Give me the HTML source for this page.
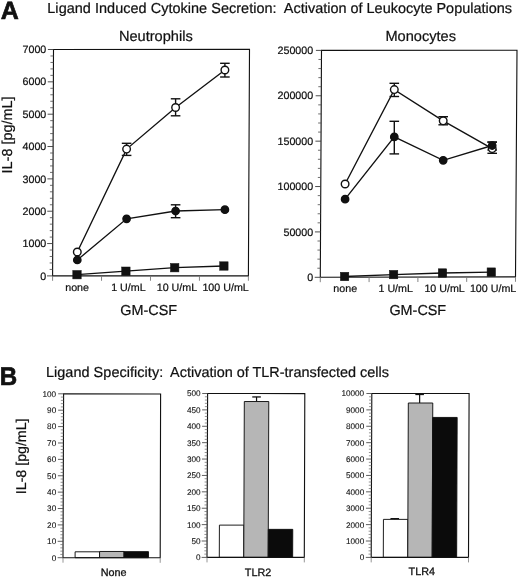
<!DOCTYPE html>
<html lang="en"><head><meta charset="utf-8"><title>Figure</title>
<style>
html,body{margin:0;padding:0;background:#fff;}
body{width:520px;height:577px;overflow:hidden;}
svg text{stroke:#111;stroke-width:0.22px;stroke-linejoin:round;}
svg{display:block;font-family:"Liberation Sans", Arial, Helvetica, sans-serif;fill:#111;will-change:transform;-webkit-font-smoothing:antialiased;text-rendering:geometricPrecision;}
</style></head><body>
<svg width="520" height="577" viewBox="0 0 520 577">
<rect x="0" y="0" width="520" height="577" fill="#fff" stroke="none"/>
<text x="0.65" y="18.60" font-size="25.0" text-anchor="start" font-weight="bold" style="stroke-width:0.7px">A</text>
<text x="47.30" y="12.60" font-size="14.45" text-anchor="start" font-weight="normal" textLength="229.3">Ligand Induced Cytokine Secretion:</text>
<text x="283.80" y="12.60" font-size="14.45" text-anchor="start" font-weight="normal" textLength="228.2">Activation of Leukocyte Populations</text>
<text x="0.00" y="0.00" font-size="25.5" text-anchor="start" font-weight="bold" style="stroke-width:0.7px" transform="translate(-0.35,384.85) scale(0.945,1)">B</text>
<text x="45.90" y="376.80" font-size="14.45" text-anchor="start" font-weight="normal" textLength="117.3">Ligand Specificity:</text>
<text x="170.10" y="376.80" font-size="14.45" text-anchor="start" font-weight="normal" textLength="218.8">Activation of TLR-transfected cells</text>
<polygon points="53.50,49.50 249.50,49.30 248.40,275.85 52.60,275.90" fill="none" stroke="#111" stroke-width="1.12" stroke-linejoin="miter"/>
<line x1="47.00" y1="275.90" x2="52.60" y2="275.90" stroke="#3a3a3a" stroke-width="0.9"/>
<text x="46.30" y="279.55" font-size="10.7" text-anchor="end" font-weight="normal" >0</text>
<line x1="49.63" y1="269.43" x2="52.63" y2="269.43" stroke="#4a4a4a" stroke-width="0.8"/>
<line x1="49.65" y1="262.96" x2="52.65" y2="262.96" stroke="#4a4a4a" stroke-width="0.8"/>
<line x1="49.68" y1="256.49" x2="52.68" y2="256.49" stroke="#4a4a4a" stroke-width="0.8"/>
<line x1="49.70" y1="250.03" x2="52.70" y2="250.03" stroke="#4a4a4a" stroke-width="0.8"/>
<line x1="47.13" y1="243.56" x2="52.73" y2="243.56" stroke="#3a3a3a" stroke-width="0.9"/>
<text x="46.30" y="247.21" font-size="10.7" text-anchor="end" font-weight="normal" >1000</text>
<line x1="49.75" y1="237.09" x2="52.75" y2="237.09" stroke="#4a4a4a" stroke-width="0.8"/>
<line x1="49.78" y1="230.62" x2="52.78" y2="230.62" stroke="#4a4a4a" stroke-width="0.8"/>
<line x1="49.81" y1="224.15" x2="52.81" y2="224.15" stroke="#4a4a4a" stroke-width="0.8"/>
<line x1="49.83" y1="217.68" x2="52.83" y2="217.68" stroke="#4a4a4a" stroke-width="0.8"/>
<line x1="47.26" y1="211.21" x2="52.86" y2="211.21" stroke="#3a3a3a" stroke-width="0.9"/>
<text x="46.30" y="214.86" font-size="10.7" text-anchor="end" font-weight="normal" >2000</text>
<line x1="49.88" y1="204.75" x2="52.88" y2="204.75" stroke="#4a4a4a" stroke-width="0.8"/>
<line x1="49.91" y1="198.28" x2="52.91" y2="198.28" stroke="#4a4a4a" stroke-width="0.8"/>
<line x1="49.93" y1="191.81" x2="52.93" y2="191.81" stroke="#4a4a4a" stroke-width="0.8"/>
<line x1="49.96" y1="185.34" x2="52.96" y2="185.34" stroke="#4a4a4a" stroke-width="0.8"/>
<line x1="47.39" y1="178.87" x2="52.99" y2="178.87" stroke="#3a3a3a" stroke-width="0.9"/>
<text x="46.30" y="182.52" font-size="10.7" text-anchor="end" font-weight="normal" >3000</text>
<line x1="50.01" y1="172.40" x2="53.01" y2="172.40" stroke="#4a4a4a" stroke-width="0.8"/>
<line x1="50.04" y1="165.93" x2="53.04" y2="165.93" stroke="#4a4a4a" stroke-width="0.8"/>
<line x1="50.06" y1="159.47" x2="53.06" y2="159.47" stroke="#4a4a4a" stroke-width="0.8"/>
<line x1="50.09" y1="153.00" x2="53.09" y2="153.00" stroke="#4a4a4a" stroke-width="0.8"/>
<line x1="47.51" y1="146.53" x2="53.11" y2="146.53" stroke="#3a3a3a" stroke-width="0.9"/>
<text x="46.30" y="150.18" font-size="10.7" text-anchor="end" font-weight="normal" >4000</text>
<line x1="50.14" y1="140.06" x2="53.14" y2="140.06" stroke="#4a4a4a" stroke-width="0.8"/>
<line x1="50.17" y1="133.59" x2="53.17" y2="133.59" stroke="#4a4a4a" stroke-width="0.8"/>
<line x1="50.19" y1="127.12" x2="53.19" y2="127.12" stroke="#4a4a4a" stroke-width="0.8"/>
<line x1="50.22" y1="120.65" x2="53.22" y2="120.65" stroke="#4a4a4a" stroke-width="0.8"/>
<line x1="47.64" y1="114.19" x2="53.24" y2="114.19" stroke="#3a3a3a" stroke-width="0.9"/>
<text x="46.30" y="117.84" font-size="10.7" text-anchor="end" font-weight="normal" >5000</text>
<line x1="50.27" y1="107.72" x2="53.27" y2="107.72" stroke="#4a4a4a" stroke-width="0.8"/>
<line x1="50.29" y1="101.25" x2="53.29" y2="101.25" stroke="#4a4a4a" stroke-width="0.8"/>
<line x1="50.32" y1="94.78" x2="53.32" y2="94.78" stroke="#4a4a4a" stroke-width="0.8"/>
<line x1="50.35" y1="88.31" x2="53.35" y2="88.31" stroke="#4a4a4a" stroke-width="0.8"/>
<line x1="47.77" y1="81.84" x2="53.37" y2="81.84" stroke="#3a3a3a" stroke-width="0.9"/>
<text x="46.30" y="85.49" font-size="10.7" text-anchor="end" font-weight="normal" >6000</text>
<line x1="50.40" y1="75.37" x2="53.40" y2="75.37" stroke="#4a4a4a" stroke-width="0.8"/>
<line x1="50.42" y1="68.91" x2="53.42" y2="68.91" stroke="#4a4a4a" stroke-width="0.8"/>
<line x1="50.45" y1="62.44" x2="53.45" y2="62.44" stroke="#4a4a4a" stroke-width="0.8"/>
<line x1="50.47" y1="55.97" x2="53.47" y2="55.97" stroke="#4a4a4a" stroke-width="0.8"/>
<line x1="47.90" y1="49.50" x2="53.50" y2="49.50" stroke="#3a3a3a" stroke-width="0.9"/>
<text x="46.30" y="53.15" font-size="10.7" text-anchor="end" font-weight="normal" >7000</text>
<line x1="52.60" y1="275.90" x2="52.58" y2="280.80" stroke="#777" stroke-width="0.9"/>
<line x1="101.55" y1="275.89" x2="101.53" y2="280.79" stroke="#777" stroke-width="0.9"/>
<line x1="150.50" y1="275.88" x2="150.48" y2="280.77" stroke="#777" stroke-width="0.9"/>
<line x1="199.45" y1="275.86" x2="199.43" y2="280.76" stroke="#777" stroke-width="0.9"/>
<line x1="248.40" y1="275.85" x2="248.38" y2="280.75" stroke="#777" stroke-width="0.9"/>
<text x="77.10" y="291.00" font-size="10.7" text-anchor="middle" font-weight="normal" >none</text>
<text x="128.40" y="291.00" font-size="10.7" text-anchor="middle" font-weight="normal" >1 U/mL</text>
<text x="176.90" y="291.00" font-size="10.7" text-anchor="middle" font-weight="normal" >10 U/mL</text>
<text x="225.60" y="291.00" font-size="10.7" text-anchor="middle" font-weight="normal" >100 U/mL</text>
<text x="155.80" y="40.90" font-size="14.6" text-anchor="middle" font-weight="normal" >Neutrophils</text>
<text x="148.70" y="314.60" font-size="14.4" text-anchor="middle" font-weight="normal" >GM-CSF</text>
<polygon points="321.50,50.40 517.00,50.30 515.50,276.90 320.30,277.30" fill="none" stroke="#111" stroke-width="1.12" stroke-linejoin="miter"/>
<line x1="314.70" y1="277.30" x2="320.30" y2="277.30" stroke="#3a3a3a" stroke-width="0.9"/>
<text x="313.20" y="280.95" font-size="10.7" text-anchor="end" font-weight="normal" >0</text>
<line x1="317.35" y1="268.22" x2="320.35" y2="268.22" stroke="#4a4a4a" stroke-width="0.8"/>
<line x1="317.40" y1="259.15" x2="320.40" y2="259.15" stroke="#4a4a4a" stroke-width="0.8"/>
<line x1="317.44" y1="250.07" x2="320.44" y2="250.07" stroke="#4a4a4a" stroke-width="0.8"/>
<line x1="317.49" y1="241.00" x2="320.49" y2="241.00" stroke="#4a4a4a" stroke-width="0.8"/>
<line x1="314.94" y1="231.92" x2="320.54" y2="231.92" stroke="#3a3a3a" stroke-width="0.9"/>
<text x="313.20" y="235.57" font-size="10.7" text-anchor="end" font-weight="normal" >50000</text>
<line x1="317.59" y1="222.84" x2="320.59" y2="222.84" stroke="#4a4a4a" stroke-width="0.8"/>
<line x1="317.64" y1="213.77" x2="320.64" y2="213.77" stroke="#4a4a4a" stroke-width="0.8"/>
<line x1="317.68" y1="204.69" x2="320.68" y2="204.69" stroke="#4a4a4a" stroke-width="0.8"/>
<line x1="317.73" y1="195.62" x2="320.73" y2="195.62" stroke="#4a4a4a" stroke-width="0.8"/>
<line x1="315.18" y1="186.54" x2="320.78" y2="186.54" stroke="#3a3a3a" stroke-width="0.9"/>
<text x="313.20" y="190.19" font-size="10.7" text-anchor="end" font-weight="normal" >100000</text>
<line x1="317.83" y1="177.46" x2="320.83" y2="177.46" stroke="#4a4a4a" stroke-width="0.8"/>
<line x1="317.88" y1="168.39" x2="320.88" y2="168.39" stroke="#4a4a4a" stroke-width="0.8"/>
<line x1="317.92" y1="159.31" x2="320.92" y2="159.31" stroke="#4a4a4a" stroke-width="0.8"/>
<line x1="317.97" y1="150.24" x2="320.97" y2="150.24" stroke="#4a4a4a" stroke-width="0.8"/>
<line x1="315.42" y1="141.16" x2="321.02" y2="141.16" stroke="#3a3a3a" stroke-width="0.9"/>
<text x="313.20" y="144.81" font-size="10.7" text-anchor="end" font-weight="normal" >150000</text>
<line x1="318.07" y1="132.08" x2="321.07" y2="132.08" stroke="#4a4a4a" stroke-width="0.8"/>
<line x1="318.12" y1="123.01" x2="321.12" y2="123.01" stroke="#4a4a4a" stroke-width="0.8"/>
<line x1="318.16" y1="113.93" x2="321.16" y2="113.93" stroke="#4a4a4a" stroke-width="0.8"/>
<line x1="318.21" y1="104.86" x2="321.21" y2="104.86" stroke="#4a4a4a" stroke-width="0.8"/>
<line x1="315.66" y1="95.78" x2="321.26" y2="95.78" stroke="#3a3a3a" stroke-width="0.9"/>
<text x="313.20" y="99.43" font-size="10.7" text-anchor="end" font-weight="normal" >200000</text>
<line x1="318.31" y1="86.70" x2="321.31" y2="86.70" stroke="#4a4a4a" stroke-width="0.8"/>
<line x1="318.36" y1="77.63" x2="321.36" y2="77.63" stroke="#4a4a4a" stroke-width="0.8"/>
<line x1="318.40" y1="68.55" x2="321.40" y2="68.55" stroke="#4a4a4a" stroke-width="0.8"/>
<line x1="318.45" y1="59.48" x2="321.45" y2="59.48" stroke="#4a4a4a" stroke-width="0.8"/>
<line x1="315.90" y1="50.40" x2="321.50" y2="50.40" stroke="#3a3a3a" stroke-width="0.9"/>
<text x="313.20" y="54.05" font-size="10.7" text-anchor="end" font-weight="normal" >250000</text>
<line x1="320.30" y1="277.30" x2="320.28" y2="282.20" stroke="#777" stroke-width="0.9"/>
<line x1="369.10" y1="277.20" x2="369.08" y2="282.10" stroke="#777" stroke-width="0.9"/>
<line x1="417.90" y1="277.10" x2="417.88" y2="282.00" stroke="#777" stroke-width="0.9"/>
<line x1="466.70" y1="277.00" x2="466.68" y2="281.90" stroke="#777" stroke-width="0.9"/>
<line x1="515.50" y1="276.90" x2="515.48" y2="281.80" stroke="#777" stroke-width="0.9"/>
<text x="345.20" y="291.70" font-size="10.7" text-anchor="middle" font-weight="normal" >none</text>
<text x="395.70" y="291.70" font-size="10.7" text-anchor="middle" font-weight="normal" >1 U/mL</text>
<text x="444.60" y="291.70" font-size="10.7" text-anchor="middle" font-weight="normal" >10 U/mL</text>
<text x="493.10" y="291.70" font-size="10.7" text-anchor="middle" font-weight="normal" >100 U/mL</text>
<text x="420.70" y="40.60" font-size="14.6" text-anchor="middle" font-weight="normal" >Monocytes</text>
<text x="417.80" y="314.60" font-size="14.4" text-anchor="middle" font-weight="normal" >GM-CSF</text>
<text x="0.00" y="0.00" font-size="14.4" text-anchor="start" font-weight="normal" transform="translate(11.5,173.4) rotate(-90)">IL-8 [pg/mL]</text>
<text x="0.00" y="0.00" font-size="14.2" text-anchor="start" font-weight="normal" transform="translate(26.0,494.2) rotate(-90)">IL-8 [pg/mL]</text>
<polyline points="77.00,274.70 125.90,271.20 174.70,267.70 223.90,266.00" fill="none" stroke="#111" stroke-width="1.35"/>
<polyline points="77.30,260.00 126.60,218.80 175.60,211.00 224.90,209.70" fill="none" stroke="#111" stroke-width="1.35"/>
<polyline points="77.30,252.00 126.60,149.10 175.60,107.50 224.90,70.00" fill="none" stroke="#111" stroke-width="1.35"/>
<line x1="175.60" y1="204.80" x2="175.60" y2="217.70" stroke="#111" stroke-width="1.4"/>
<line x1="170.80" y1="204.80" x2="180.40" y2="204.80" stroke="#111" stroke-width="1.4"/>
<line x1="170.80" y1="217.70" x2="180.40" y2="217.70" stroke="#111" stroke-width="1.4"/>
<line x1="126.60" y1="143.30" x2="126.60" y2="155.40" stroke="#111" stroke-width="1.4"/>
<line x1="121.80" y1="143.30" x2="131.40" y2="143.30" stroke="#111" stroke-width="1.4"/>
<line x1="121.80" y1="155.40" x2="131.40" y2="155.40" stroke="#111" stroke-width="1.4"/>
<line x1="175.60" y1="98.80" x2="175.60" y2="115.80" stroke="#111" stroke-width="1.4"/>
<line x1="170.80" y1="98.80" x2="180.40" y2="98.80" stroke="#111" stroke-width="1.4"/>
<line x1="170.80" y1="115.80" x2="180.40" y2="115.80" stroke="#111" stroke-width="1.4"/>
<line x1="224.90" y1="63.30" x2="224.90" y2="77.00" stroke="#111" stroke-width="1.4"/>
<line x1="220.10" y1="63.30" x2="229.70" y2="63.30" stroke="#111" stroke-width="1.4"/>
<line x1="220.10" y1="77.00" x2="229.70" y2="77.00" stroke="#111" stroke-width="1.4"/>
<rect x="72.80" y="270.50" width="8.40" height="8.40" fill="#111" stroke="#111" stroke-width="0.5"/>
<rect x="121.70" y="267.00" width="8.40" height="8.40" fill="#111" stroke="#111" stroke-width="0.5"/>
<rect x="170.50" y="263.50" width="8.40" height="8.40" fill="#111" stroke="#111" stroke-width="0.5"/>
<rect x="219.70" y="261.80" width="8.40" height="8.40" fill="#111" stroke="#111" stroke-width="0.5"/>
<circle cx="77.30" cy="260.00" r="3.7" fill="#111" stroke="#111" stroke-width="1.35"/>
<circle cx="126.60" cy="218.80" r="3.7" fill="#111" stroke="#111" stroke-width="1.35"/>
<circle cx="175.60" cy="211.00" r="3.7" fill="#111" stroke="#111" stroke-width="1.35"/>
<circle cx="224.90" cy="209.70" r="3.7" fill="#111" stroke="#111" stroke-width="1.35"/>
<circle cx="77.30" cy="252.00" r="3.8" fill="#fff" stroke="#111" stroke-width="1.4"/>
<circle cx="126.60" cy="149.10" r="3.8" fill="#fff" stroke="#111" stroke-width="1.4"/>
<circle cx="175.60" cy="107.50" r="3.8" fill="#fff" stroke="#111" stroke-width="1.4"/>
<circle cx="224.90" cy="70.00" r="3.8" fill="#fff" stroke="#111" stroke-width="1.4"/>
<polyline points="344.60,276.50 393.60,274.60 442.50,273.00 491.30,272.10" fill="none" stroke="#111" stroke-width="1.35"/>
<polyline points="345.10,199.20 394.30,136.90 443.20,160.30 492.20,145.50" fill="none" stroke="#111" stroke-width="1.35"/>
<polyline points="345.10,184.00 394.30,89.60 443.20,120.80 492.20,148.60" fill="none" stroke="#111" stroke-width="1.35"/>
<line x1="394.30" y1="121.30" x2="394.30" y2="153.90" stroke="#111" stroke-width="1.4"/>
<line x1="389.50" y1="121.30" x2="399.10" y2="121.30" stroke="#111" stroke-width="1.4"/>
<line x1="389.50" y1="153.90" x2="399.10" y2="153.90" stroke="#111" stroke-width="1.4"/>
<line x1="492.20" y1="142.10" x2="492.20" y2="150.00" stroke="#111" stroke-width="1.4"/>
<line x1="487.40" y1="142.10" x2="497.00" y2="142.10" stroke="#111" stroke-width="1.4"/>
<line x1="487.40" y1="150.00" x2="497.00" y2="150.00" stroke="#111" stroke-width="1.4"/>
<line x1="394.30" y1="83.30" x2="394.30" y2="96.50" stroke="#111" stroke-width="1.4"/>
<line x1="389.50" y1="83.30" x2="399.10" y2="83.30" stroke="#111" stroke-width="1.4"/>
<line x1="389.50" y1="96.50" x2="399.10" y2="96.50" stroke="#111" stroke-width="1.4"/>
<line x1="443.20" y1="116.70" x2="443.20" y2="124.80" stroke="#111" stroke-width="1.4"/>
<line x1="438.40" y1="116.70" x2="448.00" y2="116.70" stroke="#111" stroke-width="1.4"/>
<line x1="438.40" y1="124.80" x2="448.00" y2="124.80" stroke="#111" stroke-width="1.4"/>
<line x1="492.20" y1="142.10" x2="492.20" y2="153.30" stroke="#111" stroke-width="1.4"/>
<line x1="487.40" y1="142.10" x2="497.00" y2="142.10" stroke="#111" stroke-width="1.4"/>
<line x1="487.40" y1="153.30" x2="497.00" y2="153.30" stroke="#111" stroke-width="1.4"/>
<rect x="340.40" y="272.30" width="8.40" height="8.40" fill="#111" stroke="#111" stroke-width="0.5"/>
<rect x="389.40" y="270.40" width="8.40" height="8.40" fill="#111" stroke="#111" stroke-width="0.5"/>
<rect x="438.30" y="268.80" width="8.40" height="8.40" fill="#111" stroke="#111" stroke-width="0.5"/>
<rect x="487.10" y="267.90" width="8.40" height="8.40" fill="#111" stroke="#111" stroke-width="0.5"/>
<circle cx="345.10" cy="184.00" r="3.8" fill="#fff" stroke="#111" stroke-width="1.4"/>
<circle cx="394.30" cy="89.60" r="3.8" fill="#fff" stroke="#111" stroke-width="1.4"/>
<circle cx="443.20" cy="120.80" r="3.8" fill="#fff" stroke="#111" stroke-width="1.4"/>
<circle cx="492.20" cy="148.60" r="3.8" fill="#fff" stroke="#111" stroke-width="1.4"/>
<circle cx="345.10" cy="199.20" r="3.7" fill="#111" stroke="#111" stroke-width="1.35"/>
<circle cx="394.30" cy="136.90" r="3.7" fill="#111" stroke="#111" stroke-width="1.35"/>
<circle cx="443.20" cy="160.30" r="3.7" fill="#111" stroke="#111" stroke-width="1.35"/>
<circle cx="492.20" cy="145.50" r="3.7" fill="#111" stroke="#111" stroke-width="1.35"/>
<polygon points="75.10,557.70 75.12,551.80 99.57,551.80 99.55,557.70" fill="#fff" stroke="#111" stroke-width="0.95" stroke-linejoin="miter"/>
<polygon points="99.55,557.70 99.57,551.47 124.02,551.47 124.00,557.70" fill="#b6b6b6" stroke="#111" stroke-width="0.95" stroke-linejoin="miter"/>
<polygon points="124.00,557.70 124.02,551.64 148.47,551.64 148.45,557.70" fill="#0b0b0b" stroke="#111" stroke-width="0.95" stroke-linejoin="miter"/>
<polygon points="63.60,393.80 160.60,394.00 160.20,557.80 63.00,557.70" fill="none" stroke="#111" stroke-width="1.12" stroke-linejoin="miter"/>
<line x1="57.60" y1="557.70" x2="63.00" y2="557.70" stroke="#444" stroke-width="0.85"/>
<text x="56.20" y="560.60" font-size="8.2" text-anchor="end" font-weight="normal" style="stroke-width:0.1px">0</text>
<line x1="60.31" y1="554.42" x2="63.01" y2="554.42" stroke="#666" stroke-width="0.7"/>
<line x1="60.32" y1="551.14" x2="63.02" y2="551.14" stroke="#666" stroke-width="0.7"/>
<line x1="60.34" y1="547.87" x2="63.04" y2="547.87" stroke="#666" stroke-width="0.7"/>
<line x1="60.35" y1="544.59" x2="63.05" y2="544.59" stroke="#666" stroke-width="0.7"/>
<line x1="57.66" y1="541.31" x2="63.06" y2="541.31" stroke="#444" stroke-width="0.85"/>
<text x="56.20" y="544.21" font-size="8.2" text-anchor="end" font-weight="normal" style="stroke-width:0.1px">10</text>
<line x1="60.37" y1="538.03" x2="63.07" y2="538.03" stroke="#666" stroke-width="0.7"/>
<line x1="60.38" y1="534.75" x2="63.08" y2="534.75" stroke="#666" stroke-width="0.7"/>
<line x1="60.40" y1="531.48" x2="63.10" y2="531.48" stroke="#666" stroke-width="0.7"/>
<line x1="60.41" y1="528.20" x2="63.11" y2="528.20" stroke="#666" stroke-width="0.7"/>
<line x1="57.72" y1="524.92" x2="63.12" y2="524.92" stroke="#444" stroke-width="0.85"/>
<text x="56.20" y="527.82" font-size="8.2" text-anchor="end" font-weight="normal" style="stroke-width:0.1px">20</text>
<line x1="60.43" y1="521.64" x2="63.13" y2="521.64" stroke="#666" stroke-width="0.7"/>
<line x1="60.44" y1="518.36" x2="63.14" y2="518.36" stroke="#666" stroke-width="0.7"/>
<line x1="60.46" y1="515.09" x2="63.16" y2="515.09" stroke="#666" stroke-width="0.7"/>
<line x1="60.47" y1="511.81" x2="63.17" y2="511.81" stroke="#666" stroke-width="0.7"/>
<line x1="57.78" y1="508.53" x2="63.18" y2="508.53" stroke="#444" stroke-width="0.85"/>
<text x="56.20" y="511.43" font-size="8.2" text-anchor="end" font-weight="normal" style="stroke-width:0.1px">30</text>
<line x1="60.49" y1="505.25" x2="63.19" y2="505.25" stroke="#666" stroke-width="0.7"/>
<line x1="60.50" y1="501.97" x2="63.20" y2="501.97" stroke="#666" stroke-width="0.7"/>
<line x1="60.52" y1="498.70" x2="63.22" y2="498.70" stroke="#666" stroke-width="0.7"/>
<line x1="60.53" y1="495.42" x2="63.23" y2="495.42" stroke="#666" stroke-width="0.7"/>
<line x1="57.84" y1="492.14" x2="63.24" y2="492.14" stroke="#444" stroke-width="0.85"/>
<text x="56.20" y="495.04" font-size="8.2" text-anchor="end" font-weight="normal" style="stroke-width:0.1px">40</text>
<line x1="60.55" y1="488.86" x2="63.25" y2="488.86" stroke="#666" stroke-width="0.7"/>
<line x1="60.56" y1="485.58" x2="63.26" y2="485.58" stroke="#666" stroke-width="0.7"/>
<line x1="60.58" y1="482.31" x2="63.28" y2="482.31" stroke="#666" stroke-width="0.7"/>
<line x1="60.59" y1="479.03" x2="63.29" y2="479.03" stroke="#666" stroke-width="0.7"/>
<line x1="57.90" y1="475.75" x2="63.30" y2="475.75" stroke="#444" stroke-width="0.85"/>
<text x="56.20" y="478.65" font-size="8.2" text-anchor="end" font-weight="normal" style="stroke-width:0.1px">50</text>
<line x1="60.61" y1="472.47" x2="63.31" y2="472.47" stroke="#666" stroke-width="0.7"/>
<line x1="60.62" y1="469.19" x2="63.32" y2="469.19" stroke="#666" stroke-width="0.7"/>
<line x1="60.64" y1="465.92" x2="63.34" y2="465.92" stroke="#666" stroke-width="0.7"/>
<line x1="60.65" y1="462.64" x2="63.35" y2="462.64" stroke="#666" stroke-width="0.7"/>
<line x1="57.96" y1="459.36" x2="63.36" y2="459.36" stroke="#444" stroke-width="0.85"/>
<text x="56.20" y="462.26" font-size="8.2" text-anchor="end" font-weight="normal" style="stroke-width:0.1px">60</text>
<line x1="60.67" y1="456.08" x2="63.37" y2="456.08" stroke="#666" stroke-width="0.7"/>
<line x1="60.68" y1="452.80" x2="63.38" y2="452.80" stroke="#666" stroke-width="0.7"/>
<line x1="60.70" y1="449.53" x2="63.40" y2="449.53" stroke="#666" stroke-width="0.7"/>
<line x1="60.71" y1="446.25" x2="63.41" y2="446.25" stroke="#666" stroke-width="0.7"/>
<line x1="58.02" y1="442.97" x2="63.42" y2="442.97" stroke="#444" stroke-width="0.85"/>
<text x="56.20" y="445.87" font-size="8.2" text-anchor="end" font-weight="normal" style="stroke-width:0.1px">70</text>
<line x1="60.73" y1="439.69" x2="63.43" y2="439.69" stroke="#666" stroke-width="0.7"/>
<line x1="60.74" y1="436.41" x2="63.44" y2="436.41" stroke="#666" stroke-width="0.7"/>
<line x1="60.76" y1="433.14" x2="63.46" y2="433.14" stroke="#666" stroke-width="0.7"/>
<line x1="60.77" y1="429.86" x2="63.47" y2="429.86" stroke="#666" stroke-width="0.7"/>
<line x1="58.08" y1="426.58" x2="63.48" y2="426.58" stroke="#444" stroke-width="0.85"/>
<text x="56.20" y="429.48" font-size="8.2" text-anchor="end" font-weight="normal" style="stroke-width:0.1px">80</text>
<line x1="60.79" y1="423.30" x2="63.49" y2="423.30" stroke="#666" stroke-width="0.7"/>
<line x1="60.80" y1="420.02" x2="63.50" y2="420.02" stroke="#666" stroke-width="0.7"/>
<line x1="60.82" y1="416.75" x2="63.52" y2="416.75" stroke="#666" stroke-width="0.7"/>
<line x1="60.83" y1="413.47" x2="63.53" y2="413.47" stroke="#666" stroke-width="0.7"/>
<line x1="58.14" y1="410.19" x2="63.54" y2="410.19" stroke="#444" stroke-width="0.85"/>
<text x="56.20" y="413.09" font-size="8.2" text-anchor="end" font-weight="normal" style="stroke-width:0.1px">90</text>
<line x1="60.85" y1="406.91" x2="63.55" y2="406.91" stroke="#666" stroke-width="0.7"/>
<line x1="60.86" y1="403.63" x2="63.56" y2="403.63" stroke="#666" stroke-width="0.7"/>
<line x1="60.88" y1="400.36" x2="63.58" y2="400.36" stroke="#666" stroke-width="0.7"/>
<line x1="60.89" y1="397.08" x2="63.59" y2="397.08" stroke="#666" stroke-width="0.7"/>
<line x1="58.20" y1="393.80" x2="63.60" y2="393.80" stroke="#444" stroke-width="0.85"/>
<text x="56.20" y="396.70" font-size="8.2" text-anchor="end" font-weight="normal" style="stroke-width:0.1px">100</text>
<line x1="63.00" y1="557.70" x2="63.00" y2="562.70" stroke="#8a8a8a" stroke-width="0.9"/>
<line x1="160.20" y1="557.80" x2="160.20" y2="562.80" stroke="#8a8a8a" stroke-width="0.9"/>
<text x="113.65" y="575.50" font-size="10.8" text-anchor="middle" font-weight="normal" style="stroke-width:0.3px">None</text>
<polygon points="219.30,557.40 219.42,525.11 243.87,525.11 243.75,557.40" fill="#fff" stroke="#111" stroke-width="0.95" stroke-linejoin="miter"/>
<line x1="256.55" y1="401.53" x2="256.55" y2="396.94" stroke="#111" stroke-width="1.2"/>
<line x1="252.25" y1="396.94" x2="260.85" y2="396.94" stroke="#111" stroke-width="1.3"/>
<polygon points="243.75,557.40 244.32,401.53 268.77,401.53 268.20,557.40" fill="#b6b6b6" stroke="#111" stroke-width="0.95" stroke-linejoin="miter"/>
<polygon points="268.20,557.40 268.30,529.37 292.75,529.37 292.65,557.40" fill="#0b0b0b" stroke="#111" stroke-width="0.95" stroke-linejoin="miter"/>
<polygon points="207.60,393.50 304.80,393.60 304.30,557.40 207.00,557.40" fill="none" stroke="#111" stroke-width="1.12" stroke-linejoin="miter"/>
<line x1="201.60" y1="557.40" x2="207.00" y2="557.40" stroke="#444" stroke-width="0.85"/>
<text x="200.60" y="560.30" font-size="8.2" text-anchor="end" font-weight="normal" style="stroke-width:0.1px">0</text>
<line x1="204.31" y1="554.12" x2="207.01" y2="554.12" stroke="#666" stroke-width="0.7"/>
<line x1="204.32" y1="550.84" x2="207.02" y2="550.84" stroke="#666" stroke-width="0.7"/>
<line x1="204.34" y1="547.57" x2="207.04" y2="547.57" stroke="#666" stroke-width="0.7"/>
<line x1="204.35" y1="544.29" x2="207.05" y2="544.29" stroke="#666" stroke-width="0.7"/>
<line x1="201.66" y1="541.01" x2="207.06" y2="541.01" stroke="#444" stroke-width="0.85"/>
<text x="200.60" y="543.91" font-size="8.2" text-anchor="end" font-weight="normal" style="stroke-width:0.1px">50</text>
<line x1="204.37" y1="537.73" x2="207.07" y2="537.73" stroke="#666" stroke-width="0.7"/>
<line x1="204.38" y1="534.45" x2="207.08" y2="534.45" stroke="#666" stroke-width="0.7"/>
<line x1="204.40" y1="531.18" x2="207.10" y2="531.18" stroke="#666" stroke-width="0.7"/>
<line x1="204.41" y1="527.90" x2="207.11" y2="527.90" stroke="#666" stroke-width="0.7"/>
<line x1="201.72" y1="524.62" x2="207.12" y2="524.62" stroke="#444" stroke-width="0.85"/>
<text x="200.60" y="527.52" font-size="8.2" text-anchor="end" font-weight="normal" style="stroke-width:0.1px">100</text>
<line x1="204.43" y1="521.34" x2="207.13" y2="521.34" stroke="#666" stroke-width="0.7"/>
<line x1="204.44" y1="518.06" x2="207.14" y2="518.06" stroke="#666" stroke-width="0.7"/>
<line x1="204.46" y1="514.79" x2="207.16" y2="514.79" stroke="#666" stroke-width="0.7"/>
<line x1="204.47" y1="511.51" x2="207.17" y2="511.51" stroke="#666" stroke-width="0.7"/>
<line x1="201.78" y1="508.23" x2="207.18" y2="508.23" stroke="#444" stroke-width="0.85"/>
<text x="200.60" y="511.13" font-size="8.2" text-anchor="end" font-weight="normal" style="stroke-width:0.1px">150</text>
<line x1="204.49" y1="504.95" x2="207.19" y2="504.95" stroke="#666" stroke-width="0.7"/>
<line x1="204.50" y1="501.67" x2="207.20" y2="501.67" stroke="#666" stroke-width="0.7"/>
<line x1="204.52" y1="498.40" x2="207.22" y2="498.40" stroke="#666" stroke-width="0.7"/>
<line x1="204.53" y1="495.12" x2="207.23" y2="495.12" stroke="#666" stroke-width="0.7"/>
<line x1="201.84" y1="491.84" x2="207.24" y2="491.84" stroke="#444" stroke-width="0.85"/>
<text x="200.60" y="494.74" font-size="8.2" text-anchor="end" font-weight="normal" style="stroke-width:0.1px">200</text>
<line x1="204.55" y1="488.56" x2="207.25" y2="488.56" stroke="#666" stroke-width="0.7"/>
<line x1="204.56" y1="485.28" x2="207.26" y2="485.28" stroke="#666" stroke-width="0.7"/>
<line x1="204.58" y1="482.01" x2="207.28" y2="482.01" stroke="#666" stroke-width="0.7"/>
<line x1="204.59" y1="478.73" x2="207.29" y2="478.73" stroke="#666" stroke-width="0.7"/>
<line x1="201.90" y1="475.45" x2="207.30" y2="475.45" stroke="#444" stroke-width="0.85"/>
<text x="200.60" y="478.35" font-size="8.2" text-anchor="end" font-weight="normal" style="stroke-width:0.1px">250</text>
<line x1="204.61" y1="472.17" x2="207.31" y2="472.17" stroke="#666" stroke-width="0.7"/>
<line x1="204.62" y1="468.89" x2="207.32" y2="468.89" stroke="#666" stroke-width="0.7"/>
<line x1="204.64" y1="465.62" x2="207.34" y2="465.62" stroke="#666" stroke-width="0.7"/>
<line x1="204.65" y1="462.34" x2="207.35" y2="462.34" stroke="#666" stroke-width="0.7"/>
<line x1="201.96" y1="459.06" x2="207.36" y2="459.06" stroke="#444" stroke-width="0.85"/>
<text x="200.60" y="461.96" font-size="8.2" text-anchor="end" font-weight="normal" style="stroke-width:0.1px">300</text>
<line x1="204.67" y1="455.78" x2="207.37" y2="455.78" stroke="#666" stroke-width="0.7"/>
<line x1="204.68" y1="452.50" x2="207.38" y2="452.50" stroke="#666" stroke-width="0.7"/>
<line x1="204.70" y1="449.23" x2="207.40" y2="449.23" stroke="#666" stroke-width="0.7"/>
<line x1="204.71" y1="445.95" x2="207.41" y2="445.95" stroke="#666" stroke-width="0.7"/>
<line x1="202.02" y1="442.67" x2="207.42" y2="442.67" stroke="#444" stroke-width="0.85"/>
<text x="200.60" y="445.57" font-size="8.2" text-anchor="end" font-weight="normal" style="stroke-width:0.1px">350</text>
<line x1="204.73" y1="439.39" x2="207.43" y2="439.39" stroke="#666" stroke-width="0.7"/>
<line x1="204.74" y1="436.11" x2="207.44" y2="436.11" stroke="#666" stroke-width="0.7"/>
<line x1="204.76" y1="432.84" x2="207.46" y2="432.84" stroke="#666" stroke-width="0.7"/>
<line x1="204.77" y1="429.56" x2="207.47" y2="429.56" stroke="#666" stroke-width="0.7"/>
<line x1="202.08" y1="426.28" x2="207.48" y2="426.28" stroke="#444" stroke-width="0.85"/>
<text x="200.60" y="429.18" font-size="8.2" text-anchor="end" font-weight="normal" style="stroke-width:0.1px">400</text>
<line x1="204.79" y1="423.00" x2="207.49" y2="423.00" stroke="#666" stroke-width="0.7"/>
<line x1="204.80" y1="419.72" x2="207.50" y2="419.72" stroke="#666" stroke-width="0.7"/>
<line x1="204.82" y1="416.45" x2="207.52" y2="416.45" stroke="#666" stroke-width="0.7"/>
<line x1="204.83" y1="413.17" x2="207.53" y2="413.17" stroke="#666" stroke-width="0.7"/>
<line x1="202.14" y1="409.89" x2="207.54" y2="409.89" stroke="#444" stroke-width="0.85"/>
<text x="200.60" y="412.79" font-size="8.2" text-anchor="end" font-weight="normal" style="stroke-width:0.1px">450</text>
<line x1="204.85" y1="406.61" x2="207.55" y2="406.61" stroke="#666" stroke-width="0.7"/>
<line x1="204.86" y1="403.33" x2="207.56" y2="403.33" stroke="#666" stroke-width="0.7"/>
<line x1="204.88" y1="400.06" x2="207.58" y2="400.06" stroke="#666" stroke-width="0.7"/>
<line x1="204.89" y1="396.78" x2="207.59" y2="396.78" stroke="#666" stroke-width="0.7"/>
<line x1="202.20" y1="393.50" x2="207.60" y2="393.50" stroke="#444" stroke-width="0.85"/>
<text x="200.60" y="396.40" font-size="8.2" text-anchor="end" font-weight="normal" style="stroke-width:0.1px">500</text>
<line x1="207.00" y1="557.40" x2="207.00" y2="562.40" stroke="#8a8a8a" stroke-width="0.9"/>
<line x1="304.30" y1="557.40" x2="304.30" y2="562.40" stroke="#8a8a8a" stroke-width="0.9"/>
<text x="258.00" y="575.50" font-size="10.8" text-anchor="middle" font-weight="normal" style="stroke-width:0.3px">TLR2</text>
<line x1="394.76" y1="519.38" x2="394.76" y2="518.64" stroke="#111" stroke-width="1.2"/>
<line x1="390.46" y1="518.64" x2="399.06" y2="518.64" stroke="#111" stroke-width="1.3"/>
<polygon points="383.30,557.40 383.44,519.38 407.89,519.38 407.75,557.40" fill="#fff" stroke="#111" stroke-width="0.95" stroke-linejoin="miter"/>
<line x1="419.64" y1="403.01" x2="419.64" y2="394.48" stroke="#111" stroke-width="1.2"/>
<line x1="415.34" y1="394.48" x2="423.94" y2="394.48" stroke="#111" stroke-width="1.3"/>
<polygon points="407.75,557.40 408.32,403.01 432.77,403.01 432.20,557.40" fill="#b6b6b6" stroke="#111" stroke-width="0.95" stroke-linejoin="miter"/>
<polygon points="432.20,557.40 432.71,417.43 457.16,417.43 456.65,557.40" fill="#0b0b0b" stroke="#111" stroke-width="0.95" stroke-linejoin="miter"/>
<polygon points="371.80,393.50 469.10,393.50 468.50,557.40 371.20,557.40" fill="none" stroke="#111" stroke-width="1.12" stroke-linejoin="miter"/>
<line x1="365.80" y1="557.40" x2="371.20" y2="557.40" stroke="#444" stroke-width="0.85"/>
<text x="364.20" y="560.30" font-size="8.2" text-anchor="end" font-weight="normal" style="stroke-width:0.1px">0</text>
<line x1="368.51" y1="554.12" x2="371.21" y2="554.12" stroke="#666" stroke-width="0.7"/>
<line x1="368.52" y1="550.84" x2="371.22" y2="550.84" stroke="#666" stroke-width="0.7"/>
<line x1="368.54" y1="547.57" x2="371.24" y2="547.57" stroke="#666" stroke-width="0.7"/>
<line x1="368.55" y1="544.29" x2="371.25" y2="544.29" stroke="#666" stroke-width="0.7"/>
<line x1="365.86" y1="541.01" x2="371.26" y2="541.01" stroke="#444" stroke-width="0.85"/>
<text x="364.20" y="543.91" font-size="8.2" text-anchor="end" font-weight="normal" style="stroke-width:0.1px">1000</text>
<line x1="368.57" y1="537.73" x2="371.27" y2="537.73" stroke="#666" stroke-width="0.7"/>
<line x1="368.58" y1="534.45" x2="371.28" y2="534.45" stroke="#666" stroke-width="0.7"/>
<line x1="368.60" y1="531.18" x2="371.30" y2="531.18" stroke="#666" stroke-width="0.7"/>
<line x1="368.61" y1="527.90" x2="371.31" y2="527.90" stroke="#666" stroke-width="0.7"/>
<line x1="365.92" y1="524.62" x2="371.32" y2="524.62" stroke="#444" stroke-width="0.85"/>
<text x="364.20" y="527.52" font-size="8.2" text-anchor="end" font-weight="normal" style="stroke-width:0.1px">2000</text>
<line x1="368.63" y1="521.34" x2="371.33" y2="521.34" stroke="#666" stroke-width="0.7"/>
<line x1="368.64" y1="518.06" x2="371.34" y2="518.06" stroke="#666" stroke-width="0.7"/>
<line x1="368.66" y1="514.79" x2="371.36" y2="514.79" stroke="#666" stroke-width="0.7"/>
<line x1="368.67" y1="511.51" x2="371.37" y2="511.51" stroke="#666" stroke-width="0.7"/>
<line x1="365.98" y1="508.23" x2="371.38" y2="508.23" stroke="#444" stroke-width="0.85"/>
<text x="364.20" y="511.13" font-size="8.2" text-anchor="end" font-weight="normal" style="stroke-width:0.1px">3000</text>
<line x1="368.69" y1="504.95" x2="371.39" y2="504.95" stroke="#666" stroke-width="0.7"/>
<line x1="368.70" y1="501.67" x2="371.40" y2="501.67" stroke="#666" stroke-width="0.7"/>
<line x1="368.72" y1="498.40" x2="371.42" y2="498.40" stroke="#666" stroke-width="0.7"/>
<line x1="368.73" y1="495.12" x2="371.43" y2="495.12" stroke="#666" stroke-width="0.7"/>
<line x1="366.04" y1="491.84" x2="371.44" y2="491.84" stroke="#444" stroke-width="0.85"/>
<text x="364.20" y="494.74" font-size="8.2" text-anchor="end" font-weight="normal" style="stroke-width:0.1px">4000</text>
<line x1="368.75" y1="488.56" x2="371.45" y2="488.56" stroke="#666" stroke-width="0.7"/>
<line x1="368.76" y1="485.28" x2="371.46" y2="485.28" stroke="#666" stroke-width="0.7"/>
<line x1="368.78" y1="482.01" x2="371.48" y2="482.01" stroke="#666" stroke-width="0.7"/>
<line x1="368.79" y1="478.73" x2="371.49" y2="478.73" stroke="#666" stroke-width="0.7"/>
<line x1="366.10" y1="475.45" x2="371.50" y2="475.45" stroke="#444" stroke-width="0.85"/>
<text x="364.20" y="478.35" font-size="8.2" text-anchor="end" font-weight="normal" style="stroke-width:0.1px">5000</text>
<line x1="368.81" y1="472.17" x2="371.51" y2="472.17" stroke="#666" stroke-width="0.7"/>
<line x1="368.82" y1="468.89" x2="371.52" y2="468.89" stroke="#666" stroke-width="0.7"/>
<line x1="368.84" y1="465.62" x2="371.54" y2="465.62" stroke="#666" stroke-width="0.7"/>
<line x1="368.85" y1="462.34" x2="371.55" y2="462.34" stroke="#666" stroke-width="0.7"/>
<line x1="366.16" y1="459.06" x2="371.56" y2="459.06" stroke="#444" stroke-width="0.85"/>
<text x="364.20" y="461.96" font-size="8.2" text-anchor="end" font-weight="normal" style="stroke-width:0.1px">6000</text>
<line x1="368.87" y1="455.78" x2="371.57" y2="455.78" stroke="#666" stroke-width="0.7"/>
<line x1="368.88" y1="452.50" x2="371.58" y2="452.50" stroke="#666" stroke-width="0.7"/>
<line x1="368.90" y1="449.23" x2="371.60" y2="449.23" stroke="#666" stroke-width="0.7"/>
<line x1="368.91" y1="445.95" x2="371.61" y2="445.95" stroke="#666" stroke-width="0.7"/>
<line x1="366.22" y1="442.67" x2="371.62" y2="442.67" stroke="#444" stroke-width="0.85"/>
<text x="364.20" y="445.57" font-size="8.2" text-anchor="end" font-weight="normal" style="stroke-width:0.1px">7000</text>
<line x1="368.93" y1="439.39" x2="371.63" y2="439.39" stroke="#666" stroke-width="0.7"/>
<line x1="368.94" y1="436.11" x2="371.64" y2="436.11" stroke="#666" stroke-width="0.7"/>
<line x1="368.96" y1="432.84" x2="371.66" y2="432.84" stroke="#666" stroke-width="0.7"/>
<line x1="368.97" y1="429.56" x2="371.67" y2="429.56" stroke="#666" stroke-width="0.7"/>
<line x1="366.28" y1="426.28" x2="371.68" y2="426.28" stroke="#444" stroke-width="0.85"/>
<text x="364.20" y="429.18" font-size="8.2" text-anchor="end" font-weight="normal" style="stroke-width:0.1px">8000</text>
<line x1="368.99" y1="423.00" x2="371.69" y2="423.00" stroke="#666" stroke-width="0.7"/>
<line x1="369.00" y1="419.72" x2="371.70" y2="419.72" stroke="#666" stroke-width="0.7"/>
<line x1="369.02" y1="416.45" x2="371.72" y2="416.45" stroke="#666" stroke-width="0.7"/>
<line x1="369.03" y1="413.17" x2="371.73" y2="413.17" stroke="#666" stroke-width="0.7"/>
<line x1="366.34" y1="409.89" x2="371.74" y2="409.89" stroke="#444" stroke-width="0.85"/>
<text x="364.20" y="412.79" font-size="8.2" text-anchor="end" font-weight="normal" style="stroke-width:0.1px">9000</text>
<line x1="369.05" y1="406.61" x2="371.75" y2="406.61" stroke="#666" stroke-width="0.7"/>
<line x1="369.06" y1="403.33" x2="371.76" y2="403.33" stroke="#666" stroke-width="0.7"/>
<line x1="369.08" y1="400.06" x2="371.78" y2="400.06" stroke="#666" stroke-width="0.7"/>
<line x1="369.09" y1="396.78" x2="371.79" y2="396.78" stroke="#666" stroke-width="0.7"/>
<line x1="366.40" y1="393.50" x2="371.80" y2="393.50" stroke="#444" stroke-width="0.85"/>
<text x="364.20" y="396.40" font-size="8.2" text-anchor="end" font-weight="normal" style="stroke-width:0.1px">10000</text>
<line x1="371.20" y1="557.40" x2="371.20" y2="562.40" stroke="#8a8a8a" stroke-width="0.9"/>
<line x1="468.50" y1="557.40" x2="468.50" y2="562.40" stroke="#8a8a8a" stroke-width="0.9"/>
<text x="421.80" y="574.90" font-size="10.8" text-anchor="middle" font-weight="normal" style="stroke-width:0.3px">TLR4</text>
</svg>
</body></html>
